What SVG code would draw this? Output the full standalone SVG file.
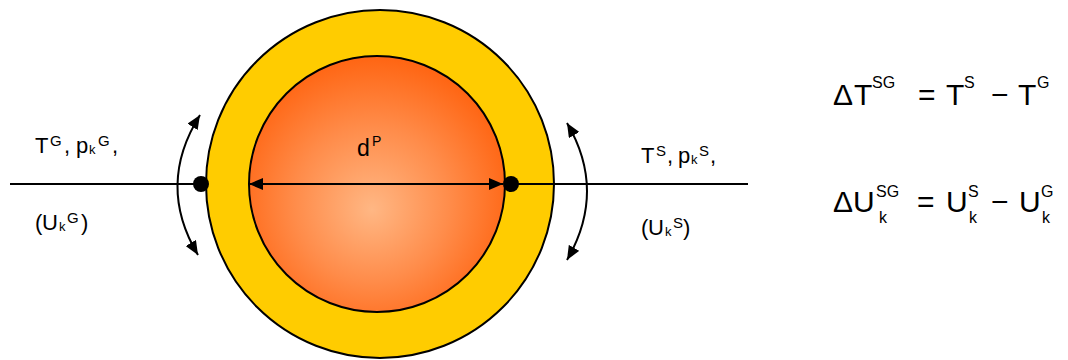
<svg xmlns="http://www.w3.org/2000/svg" width="1068" height="360" viewBox="0 0 1068 360">
<style>
  .ln { stroke:#000; stroke-width:2; fill:none; }
  .t { font-family:"Liberation Sans", Arial, sans-serif; fill:#000; }
  .m { font-size:22px; }
  .s { font-size:15px; }
  .k { font-size:13px; }
  .E { font-size:30px; }
  .ES { font-size:16px; }
  .ek { font-size:16px; }
</style>
<defs>
  <radialGradient id="core" cx="0.48" cy="0.56" r="0.55" fx="0.48" fy="0.6">
    <stop offset="0" stop-color="#FFB784"/>
    <stop offset="0.55" stop-color="#FF8C4A"/>
    <stop offset="1" stop-color="#FF6614"/>
  </radialGradient>
  <marker id="ah" viewBox="0 0 14 12" refX="14" refY="6" markerWidth="14" markerHeight="12" markerUnits="userSpaceOnUse" orient="auto-start-reverse">
    <path d="M0,0 L14,6 L0,12 z" fill="#000"/>
  </marker>
</defs>
<rect width="1068" height="360" fill="#fff"/>
<g id="shell">
  <circle cx="380" cy="184" r="174" fill="#FFCC00" stroke="#000" stroke-width="2"/>
</g>
<g id="core-particle">
  <circle cx="377" cy="184" r="128" fill="url(#core)" stroke="#000" stroke-width="2"/>
</g>
<g id="connectors">
  <path class="ln" d="M10,184 L201,184"/>
  <path class="ln" d="M511,184 L748,184"/>
  <path class="ln" d="M249,184 L503,184" marker-start="url(#ah)" marker-end="url(#ah)"/>
  <path class="ln" d="M200,115 Q156,185 198,255" marker-start="url(#ah)" marker-end="url(#ah)"/>
  <path class="ln" d="M567,123 Q607,191 567,260" marker-start="url(#ah)" marker-end="url(#ah)"/>
</g>
<g id="dot-left"><circle cx="201" cy="184" r="8" fill="#000"/></g>
<g id="dot-right"><circle cx="511" cy="184" r="8" fill="#000"/></g>
<g id="label-d">
  <text class="t"><tspan style="font-size:23px" x="357" y="156">d</tspan><tspan style="font-size:14px" x="372" y="146">P</tspan></text>
</g>
<g id="label-gas">
  <text class="t"><tspan class="m" x="35" y="153">T</tspan><tspan class="s" x="50" y="146">G</tspan><tspan class="m" x="64" y="153">,</tspan><tspan class="m" x="76" y="153">p</tspan><tspan class="k" x="89" y="154">k</tspan><tspan class="s" x="98" y="146">G</tspan><tspan class="m" x="112" y="153">,</tspan></text>
  <text class="t"><tspan class="m" x="35" y="230">(</tspan><tspan class="m" x="42" y="230">U</tspan><tspan class="k" x="59" y="231">k</tspan><tspan class="s" x="67" y="223">G</tspan><tspan class="m" x="81" y="230">)</tspan></text>
</g>
<g id="label-surface">
  <text class="t"><tspan class="m" x="641" y="163">T</tspan><tspan class="s" x="656" y="156">S</tspan><tspan class="m" x="667" y="163">,</tspan><tspan class="m" x="678" y="163">p</tspan><tspan class="k" x="691" y="164">k</tspan><tspan class="s" x="699" y="156">S</tspan><tspan class="m" x="710" y="163">,</tspan></text>
  <text class="t"><tspan class="m" x="641" y="235">(</tspan><tspan class="m" x="648" y="235">U</tspan><tspan class="k" x="665" y="236">k</tspan><tspan class="s" x="673" y="228">S</tspan><tspan class="m" x="683" y="235">)</tspan></text>
</g>
<g id="equation-T">
  <text class="t"><tspan class="E" x="833" y="105">Δ</tspan><tspan class="E" x="854" y="105">T</tspan><tspan class="ES" x="872" y="88">SG</tspan><tspan class="E" x="918" y="105">=</tspan><tspan class="E" x="946" y="105">T</tspan><tspan class="ES" x="964" y="88">S</tspan><tspan class="E" x="991" y="105">−</tspan><tspan class="E" x="1018" y="105">T</tspan><tspan class="ES" x="1037" y="88">G</tspan></text>
</g>
<g id="equation-U">
  <text class="t"><tspan class="E" x="833" y="212">Δ</tspan><tspan class="E" x="853" y="212">U</tspan><tspan class="ES" x="876" y="197">SG</tspan><tspan class="ek" x="879" y="223">k</tspan><tspan class="E" x="917" y="212">=</tspan><tspan class="E" x="946" y="212">U</tspan><tspan class="ES" x="968" y="197">S</tspan><tspan class="ek" x="969" y="223">k</tspan><tspan class="E" x="991" y="212">−</tspan><tspan class="E" x="1019" y="212">U</tspan><tspan class="ES" x="1041" y="197">G</tspan><tspan class="ek" x="1042" y="223">k</tspan></text>
</g>
</svg>
